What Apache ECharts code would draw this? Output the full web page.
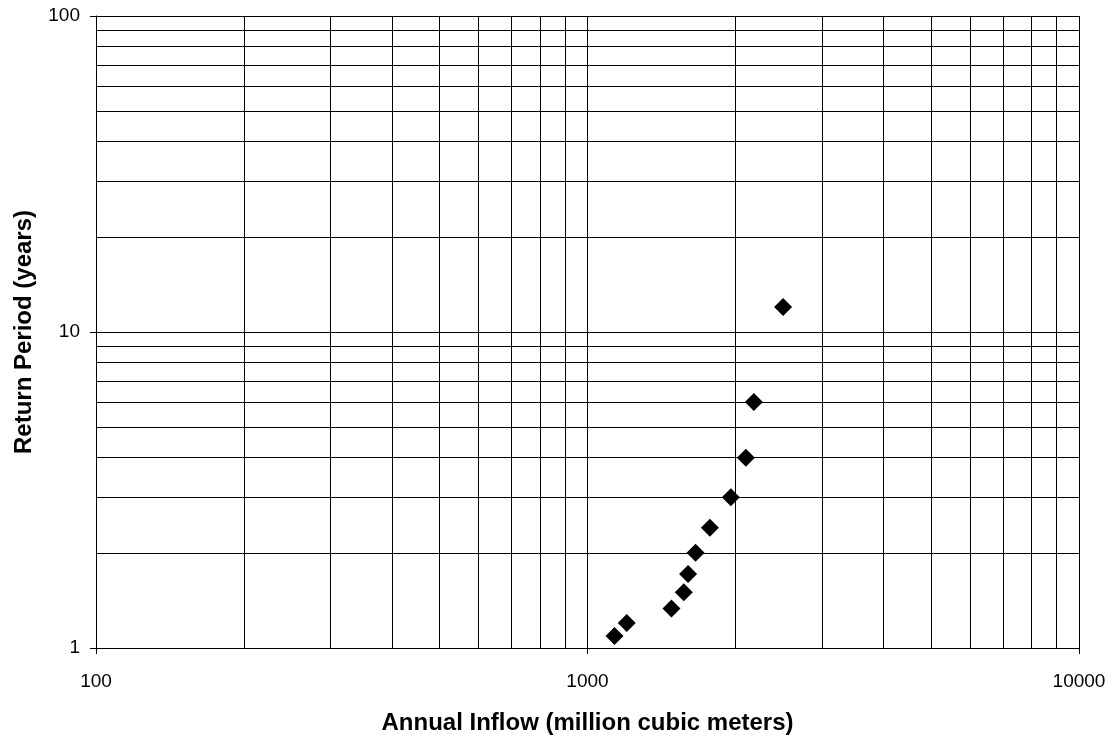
<!DOCTYPE html>
<html>
<head>
<meta charset="utf-8">
<title>Annual Inflow Return Period</title>
<script src="https://cdn.jsdelivr.net/npm/echarts@6/dist/echarts.min.js"></script>
<style>
  html, body { margin: 0; padding: 0; background: #fff; }
  #chart { width: 1115px; height: 740px; }
</style>
</head>
<body>
<div id="chart"></div>
<script>
// Annual inflow (million m³) ranked against its return period (years)
const inflow = [2500, 2180, 2100, 1957, 1774, 1659, 1602, 1570, 1482, 1202, 1135];
const returnPeriod = [12, 6, 4, 3, 2.4, 2, 1.714, 1.5, 1.333, 1.2, 1.091];

// Major ticks (decades) and minor log gridlines
const xTicks = [100, 1000, 10000];
const yTicks = [1, 10, 100];
const xMinorGrid = [200, 300, 400, 500, 600, 700, 800, 900, 2000, 3000, 4000, 5000, 6000, 7000, 8000, 9000];
const yMinorGrid = [2, 3, 4, 5, 6, 7, 8, 9, 20, 30, 40, 50, 60, 70, 80, 90];

const FONT = '"Liberation Sans", Arial, sans-serif';

const points = inflow.map((v, i) => [v, returnPeriod[i]]);

const gridLines = []
  .concat(xMinorGrid.concat(xTicks).map(v => ({ xAxis: v })))
  .concat(yMinorGrid.concat(yTicks).map(v => ({ yAxis: v })));

const chart = echarts.init(document.getElementById('chart'), null, { renderer: 'canvas' });

chart.setOption({
  animation: false,
  backgroundColor: '#ffffff',
  grid: { left: 96, right: 36, top: 16, bottom: 92, containLabel: false },
  xAxis: {
    type: 'log',
    logBase: 10,
    min: xTicks[0],
    max: xTicks[xTicks.length - 1],
    name: 'Annual Inflow (million cubic meters)',
    nameLocation: 'middle',
    nameGap: 63,
    nameTextStyle: { fontFamily: FONT, fontWeight: 'bold', fontSize: 24, color: '#000' },
    axisLine: { show: true, lineStyle: { color: '#000', width: 1 } },
    axisTick: { show: true, inside: false, length: 6, lineStyle: { color: '#000' } },
    axisLabel: { fontFamily: FONT, fontSize: 19, color: '#000', margin: 24, formatter: v => String(v) },
    splitLine: { show: false },
    minorTick: { show: false },
    minorSplitLine: { show: false }
  },
  yAxis: {
    type: 'log',
    logBase: 10,
    min: yTicks[0],
    max: yTicks[yTicks.length - 1],
    name: 'Return Period (years)',
    nameLocation: 'middle',
    nameGap: 60,
    nameTextStyle: { fontFamily: FONT, fontWeight: 'bold', fontSize: 24, color: '#000' },
    axisLine: { show: true, lineStyle: { color: '#000', width: 1 } },
    axisTick: { show: true, inside: false, length: 6, lineStyle: { color: '#000' } },
    axisLabel: { fontFamily: FONT, fontSize: 19, color: '#000', margin: 16, formatter: v => String(v) },
    splitLine: { show: false },
    minorTick: { show: false },
    minorSplitLine: { show: false }
  },
  series: [{
    type: 'scatter',
    data: points,
    symbol: 'diamond',
    symbolSize: 18,
    itemStyle: { color: '#000', opacity: 1 },
    z: 5,
    markLine: {
      silent: true,
      symbol: ['none', 'none'],
      label: { show: false },
      animation: false,
      lineStyle: { color: '#000', width: 1, type: 'solid', opacity: 1 },
      emphasis: { disabled: true },
      data: gridLines
    }
  }]
});
</script>
</body>
</html>
